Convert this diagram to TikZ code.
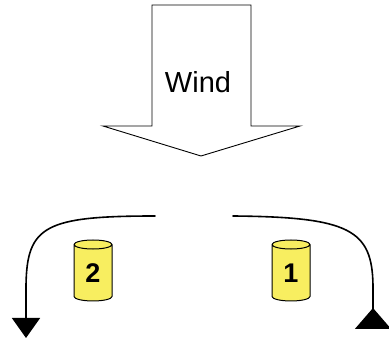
\documentclass[tikz,border=0pt]{standalone}
\usepackage{fontspec}
\setmainfont{Liberation Sans}
\usetikzlibrary{arrows.meta,shapes.geometric}
\definecolor{canyellow}{RGB}{248,238,96}

\begin{document}
\begin{tikzpicture}[x=1pt,y=-1pt,
    flow/.style={line width=1.6pt, line cap=round},
    can/.style={shape=cylinder, shape border rotate=90, aspect=0.6,
      draw, line width=1pt, fill=canyellow, minimum width=38pt,
      minimum height=61pt, inner sep=0pt,
      font=\fontsize{27}{27}\selectfont\bfseries}
  ]
  \useasboundingbox (0,0) rectangle (389,339);

  % The wind arrow, pointing down
  \coordinate (shaftTL) at (152,5);
  \coordinate (shaftTR) at (251,5);
  \coordinate (tip) at (201,156);
  \draw[line width=0.9pt, fill=white] (shaftTL) -- (shaftTR) -- (251,126)
    -- (300,126) -- (tip) -- (103,126) -- (152,126) -- cycle;
  \node[font=\fontsize{29}{29}\selectfont] (wind) at (198,82) {Wind};

  % The two cans
  \node[can] (can2) at (93,273) {\raisebox{-3pt}{2}};
  \node[can] (can1) at (291,273) {\raisebox{-3pt}{1}};

  % Air flowing round both sides
  \coordinate (leftStart) at (155,216);
  \coordinate (leftEnd) at (26,338);
  \coordinate (rightStart) at (233,216);
  \coordinate (rightEnd) at (373,329);
  \draw[flow, -{Triangle[width=28pt,length=20pt]}] (leftStart)
    .. controls (45,216) and (27,226) .. (26,285) -- (leftEnd);
  \draw[flow, -{Triangle[reversed,width=36pt,length=21pt]}] (rightStart)
    .. controls (350,217) and (372,230) .. (373,285) -- (rightEnd);
\end{tikzpicture}
\end{document}
